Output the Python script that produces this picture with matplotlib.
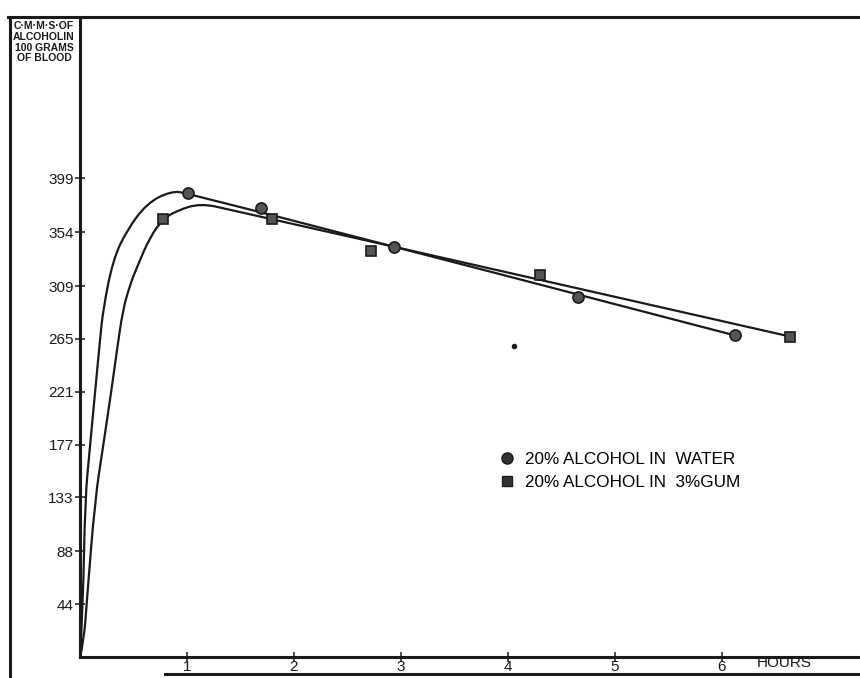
import matplotlib
matplotlib.use("Agg")
import matplotlib.pyplot as plt
from matplotlib.lines import Line2D
from matplotlib.path import Path
from matplotlib.patches import PathPatch

# measured points, hours vs c.mms. of alcohol in 100 g blood
water_hours = [1.01, 1.69, 2.93, 4.65, 6.12]
water_conc = [387, 374, 342, 300, 268]
gum_hours = [0.78, 1.79, 2.72, 4.30, 6.64]
gum_conc = [365, 365, 338, 318, 267]

# hand drawn curves (rising part up to the peak,
# then a straight line to the last point)
water_curve_hours = [0.0, 0.028, 0.047, 0.093, 0.14, 0.187, 0.215, 0.308, 0.44, 0.626, 0.841, 1.01, 6.12]
water_curve_conc = [0, 42, 131, 175, 220, 264, 289, 331, 356, 378, 388, 387, 268]
gum_curve_hours = [0.0, 0.037, 0.065, 0.14, 0.215, 0.29, 0.346, 0.40, 0.467, 0.533, 0.654, 0.776, 0.907, 1.121, 1.40, 6.64]
gum_curve_conc = [0, 14, 48, 131, 175, 220, 256, 289, 310, 325, 350, 365, 372, 378, 373, 267]

# unlabelled dot near 4 hours
stray_hours = [4.06]
stray_conc = [259]

x_ticks = [1, 2, 3, 4, 5, 6]
y_ticks = [44, 88, 133, 177, 221, 265, 309, 354, 399]
y_tick_labels = ["44", "88", "133", "177", "221", "265", "309", "354", "399"]

plt.rcParams["font.family"] = ["Liberation Sans", "DejaVu Sans"]

ink = "#1a1a1a"


def smooth_curve(ax, xs, ys):
    # quadratic b-spline over the traced points, ending on the last one
    pts = list(zip(xs, ys))
    n = len(pts)
    verts = [pts[0]]
    codes = [Path.MOVETO]
    for i in range(1, n - 1):
        if i < n - 2:
            end = ((pts[i][0] + pts[i + 1][0]) / 2, (pts[i][1] + pts[i + 1][1]) / 2)
        else:
            end = pts[-1]
        verts += [pts[i], end]
        codes += [Path.CURVE3, Path.CURVE3]
    patch = PathPatch(Path(verts, codes), fill=False, edgecolor=ink, lw=1.6,
                      joinstyle="round", zorder=2)
    ax.add_patch(patch)


W, H = 860, 678
fig = plt.figure(figsize=(W / 100, H / 100), dpi=100)
ax = fig.add_axes([80 / W, 21 / H, 780 / W, 640 / H])

smooth_curve(ax, water_curve_hours, water_curve_conc)
smooth_curve(ax, gum_curve_hours, gum_curve_conc)
ax.plot(water_hours, water_conc, ls="none", marker="o", ms=8, mfc="#555555", mec=ink, mew=1.2, zorder=3)
ax.plot(gum_hours, gum_conc, ls="none", marker="s", ms=7, mfc="#555555", mec=ink, mew=1.2, zorder=3)
ax.plot(stray_hours, stray_conc, ls="none", marker="o", ms=3, mfc=ink, mec=ink, zorder=3)

ax.set_xlim(0, 780 / 107)
ax.set_ylim(0, 640 / 1.2)

ax.set_xticks(x_ticks)
ax.set_xticklabels([str(t) for t in x_ticks])
ax.set_yticks(y_ticks)
ax.set_yticklabels(y_tick_labels)
ax.tick_params(direction="inout", length=7, width=1.1, colors=ink, labelsize=11)
ax.tick_params(axis="x", pad=-1)
ax.tick_params(axis="y", pad=1)

for side in ["left", "bottom", "top"]:
    ax.spines[side].set_linewidth(2.2)
    ax.spines[side].set_color(ink)
ax.spines["right"].set_visible(False)

# legend
handles = [
    Line2D([], [], ls="none", marker="o", ms=8, mfc="#333333", mec=ink),
    Line2D([], [], ls="none", marker="s", ms=7, mfc="#333333", mec=ink),
]
fig.legend(
    handles,
    ["20% ALCOHOL IN  WATER", "20% ALCOHOL IN  3%GUM"],
    loc="upper left",
    bbox_to_anchor=(498 / W, 1 - 452 / H),
    frameon=False,
    fontsize=12.3,
    handlelength=1.0,
    handletextpad=0.6,
    labelspacing=0.45,
    borderpad=0,
    borderaxespad=0,
)

# outer frame of the old plate
fig.add_artist(Line2D([8 / W, 80 / W], [1 - 17 / H, 1 - 17 / H], color=ink, lw=2.2))
fig.add_artist(Line2D([10 / W, 10 / W], [1 - 17 / H, 0], color=ink, lw=2.2))
fig.add_artist(Line2D([165 / W, 1], [1 - 674 / H, 1 - 674 / H], color=ink, lw=2.2))

fig.text(44 / W, 1 - 21 / H, "C·M·M·S·OF\nALCOHOLIN\n100 GRAMS\nOF BLOOD",
         ha="center", va="top", fontsize=7.5, fontweight="bold", linespacing=1.1, color=ink)
fig.text(757 / W, 1 - 663 / H, "HOURS", ha="left", va="center", fontsize=11, color=ink)

fig.savefig("out.png", dpi=100)
plt.close(fig)
